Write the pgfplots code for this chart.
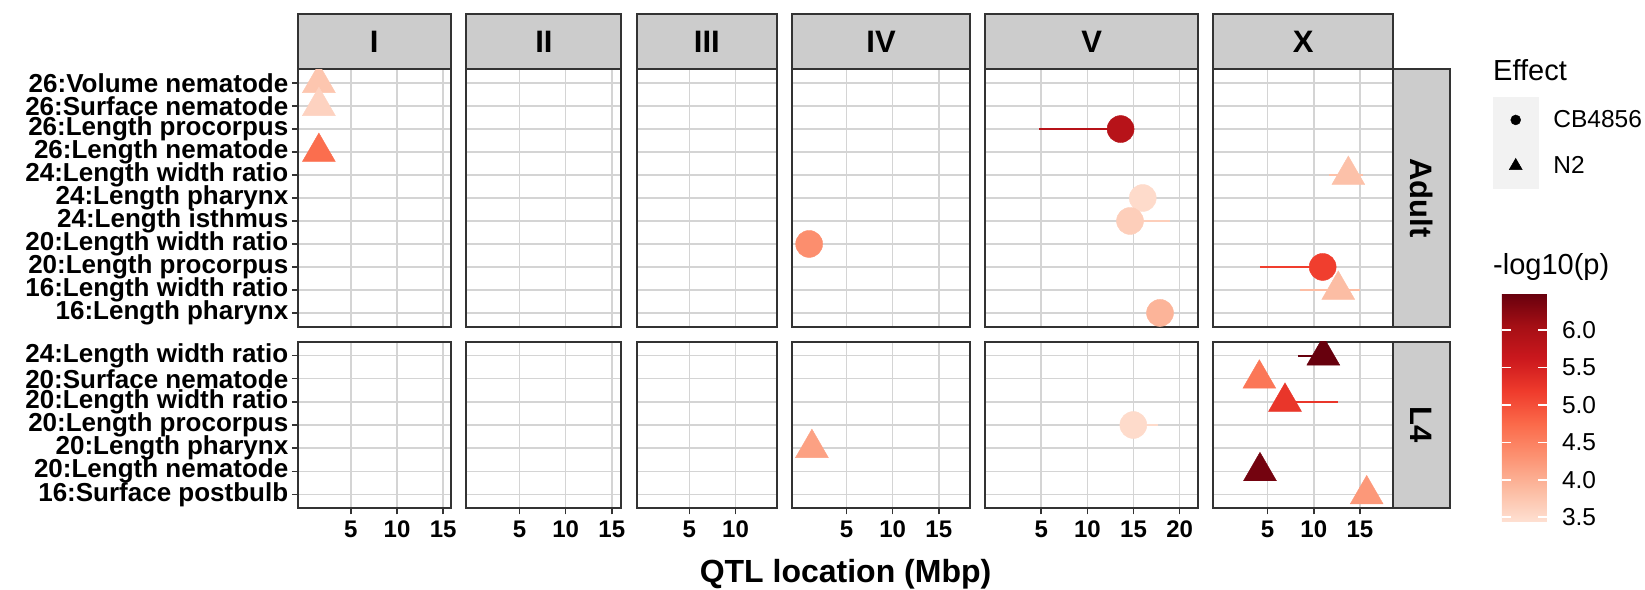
\documentclass[border=0pt]{standalone}
\usepackage{pgfplots}
\pgfplotsset{compat=1.18}
\usepackage{fontspec}
\setmainfont{Liberation Sans}
\definecolor{gridc}{HTML}{D4D4D4}
\definecolor{borderc}{HTML}{333333}
\definecolor{stripc}{HTML}{CCCCCC}
\definecolor{keyc}{HTML}{F2F2F2}
\pgfplotsset{
 colormap={reds}{rgb255=(254,224,210) rgb255=(252,187,161) rgb255=(252,146,114) rgb255=(251,106,74) rgb255=(239,59,44) rgb255=(203,24,29) rgb255=(165,15,21) rgb255=(103,0,13)},
 panel/.style={
   scale only axis, anchor=south west,
   axis line style={draw=borderc, line width=2pt},
   xmajorgrids, ymajorgrids,
   grid style={draw=gridc, line width=1.5pt},
   tick align=outside, major tick length=6pt,
   tick style={draw=borderc, line width=1.5pt},
   xtick pos=left, ytick pos=left,
   /pgf/number format/assume math mode=true,
   xticklabel style={font=\fontsize{24}{24}\selectfont\bfseries, text=black, yshift=-3pt},
   yticklabel style={font=\fontsize{26}{26}\selectfont\bfseries, text=black},
   colormap name=reds, point meta min=3.44, point meta max=6.49,
   clip marker paths=true,
 },
 adult/.style={ymin=0.4, ymax=11.6, height=257.4pt, ytick={1,...,11}},
 lfour/.style={ymin=0.4, ymax=7.6, height=166.6pt, ytick={1,...,7}},
 notx/.style={xticklabel=\empty, xtick style={draw=none}},
 noty/.style={yticklabel=\empty, ytick style={draw=none}},
 colI/.style={xmin=-0.7535, xmax=15.8235, width=153.0pt, xtick={5,10,15}},
 colII/.style={xmin=-0.764, xmax=16.044, width=155.14pt, xtick={5,10,15}},
 colIII/.style={xmin=-0.689, xmax=14.469, width=139.91pt, xtick={5,10}},
 colIV/.style={xmin=-0.8745, xmax=18.3645, width=177.58pt, xtick={5,10,15}},
 colV/.style={xmin=-1.046, xmax=21.966, width=212.40pt, xtick={5,10,15,20}},
 colX/.style={xmin=-0.886, xmax=18.606, width=179.91pt, xtick={5,10,15}},
 pts/.style={scatter, only marks, point meta=explicit, scatter/use mapped color={draw=mapped color, fill=mapped color}},
 circ/.style={pts, mark=*, mark size=13.5pt},
 tri/.style={pts, mark=triangle*, mark size=19pt},
 ci/.style={mesh, shader=flat, line width=2pt, point meta=explicit, mark=none},
}
\tikzset{strip/.style={fill=stripc, draw=borderc, line width=2pt},
  striptext/.style={font=\fontsize{31}{31}\selectfont\bfseries, text=black}}
\begin{document}
\begin{tikzpicture}[x=1pt,y=1pt]
\path[use as bounding box] (0,0) rectangle (1645,589);
% top strips
\draw[strip] (297.8,519.7) rectangle (450.8,575);   \node[striptext] at (374.3,547.35) {I};
\draw[strip] (466.3,519.7) rectangle (621.44,575);  \node[striptext] at (543.9,547.35) {II};
\draw[strip] (636.9,519.7) rectangle (776.81,575);  \node[striptext] at (706.9,547.35) {III};
\draw[strip] (792.3,519.7) rectangle (969.88,575);  \node[striptext] at (881.1,547.35) {IV};
\draw[strip] (985.4,519.7) rectangle (1197.8,575);  \node[striptext] at (1091.6,547.35) {V};
\draw[strip] (1213.3,519.7) rectangle (1393.21,575); \node[striptext] at (1303.3,547.35) {X};
% right strips
\draw[strip] (1393.21,262.3) rectangle (1450,519.7); \node[striptext, rotate=-90] at (1421.6,391) {Adult};
\draw[strip] (1393.21,80.7) rectangle (1450,247.3);  \node[striptext, rotate=-90] at (1421.6,164) {L4};

% ===== Adult row =====
\begin{axis}[panel, adult, colI, notx, at={(297.8pt,262.3pt)},
  yticklabels={16:Length pharynx,16:Length width ratio,20:Length procorpus,20:Length width ratio,24:Length isthmus,24:Length pharynx,24:Length width ratio,26:Length nematode,26:Length procorpus,26:Surface nematode,26:Volume nematode}]
\addplot[tri] coordinates {(1.53,11) [3.75] (1.53,10) [3.6] (1.53,8) [4.7]};
\end{axis}
\begin{axis}[panel, adult, colII, notx, noty, at={(466.3pt,262.3pt)}]
\end{axis}
\begin{axis}[panel, adult, colIII, notx, noty, at={(636.9pt,262.3pt)}]
\end{axis}
\begin{axis}[panel, adult, colIV, notx, noty, at={(792.3pt,262.3pt)}]
\addplot[circ] coordinates {(0.95,4) [4.35]};
\end{axis}
\begin{axis}[panel, adult, colV, notx, noty, at={(985.4pt,262.3pt)}]
\addplot[ci] coordinates {(4.8,9) [5.85] (13.6,9) [5.85]};
\addplot[ci] coordinates {(13.5,5) [3.65] (18.9,5) [3.65]};
\addplot[ci] coordinates {(15.0,6) [3.5] (17.2,6) [3.5]};
\addplot[circ] coordinates {(13.6,9) [5.85] (16.0,6) [3.5] (14.62,5) [3.65] (17.87,1) [3.95]};
\end{axis}
\begin{axis}[panel, adult, colX, notx, noty, at={(1213.3pt,262.3pt)}]
\addplot[ci] coordinates {(11.7,7) [3.8] (15.3,7) [3.8]};
\addplot[ci] coordinates {(4.2,3) [5.15] (11.5,3) [5.15]};
\addplot[ci] coordinates {(8.5,2) [3.85] (15.0,2) [3.85]};
\addplot[tri] coordinates {(13.74,7) [3.8] (12.65,2) [3.85]};
\addplot[circ] coordinates {(10.96,3) [5.15]};
\end{axis}

% ===== L4 row =====
\begin{axis}[panel, lfour, colI, at={(297.8pt,80.7pt)},
  yticklabels={16:Surface postbulb,20:Length nematode,20:Length pharynx,20:Length procorpus,20:Length width ratio,20:Surface nematode,24:Length width ratio},
  xticklabels={5,10,15}]
\end{axis}
\begin{axis}[panel, lfour, colII, noty, at={(466.3pt,80.7pt)}, xticklabels={5,10,15}]
\end{axis}
\begin{axis}[panel, lfour, colIII, noty, at={(636.9pt,80.7pt)}, xticklabels={5,10}]
\end{axis}
\begin{axis}[panel, lfour, colIV, noty, at={(792.3pt,80.7pt)}, xticklabels={5,10,15}]
\addplot[tri] coordinates {(1.25,3) [4.15]};
\end{axis}
\begin{axis}[panel, lfour, colV, noty, at={(985.4pt,80.7pt)}, xticklabels={5,10,15,20}]
\addplot[ci] coordinates {(14.2,4) [3.5] (17.6,4) [3.5]};
\addplot[circ] coordinates {(14.98,4) [3.5]};
\end{axis}
\begin{axis}[panel, lfour, colX, noty, at={(1213.3pt,80.7pt)}, xticklabels={5,10,15}]
\addplot[ci] coordinates {(8.3,7) [6.49] (12.2,7) [6.49]};
\addplot[ci] coordinates {(6.88,5) [5.25] (12.65,5) [5.25]};
\addplot[tri] coordinates {(11.03,7) [6.49] (4.1,6) [4.6] (6.88,5) [5.25] (4.17,2) [6.4] (15.73,1) [4.25]};
\end{axis}

% x title
\node[font=\fontsize{32}{32}\selectfont\bfseries, anchor=base] at (845.5,7) {QTL location (Mbp)};

% shape legend
\node[font=\fontsize{29}{29}\selectfont, anchor=base west, inner sep=0pt] at (1493,508) {Effect};
\begin{axis}[at={(1493pt,401pt)}, anchor=south west, scale only axis, width=45pt, height=91pt,
  hide axis, xmin=0, xmax=1, ymin=0, ymax=1,
  legend style={at={(0,1)}, anchor=north west, draw=none, fill=none, inner sep=0pt, outer sep=0pt,
     row sep=0pt, column sep=15pt, font=\fontsize{24.5}{24.5}\selectfont, text=black,
     nodes={inner sep=0pt}, cells={anchor=west}},
  legend image code/.code={\fill[keyc] (-22.5pt,-22.75pt) rectangle (22.5pt,22.75pt); \draw plot coordinates {(0pt,0pt)};}]
\addlegendimage{only marks, mark=*, mark size=5pt, black}
\addlegendentry{CB4856}
\addlegendimage{only marks, mark=triangle*, mark size=7.5pt, black}
\addlegendentry{N2}
\end{axis}

% colour bar
\node[font=\fontsize{29}{29}\selectfont, anchor=base west, inner sep=0pt] at (1493,314) {-log10(p)};
\pgfplotscolorbardrawstandalone[colormap name=reds, point meta min=3.44, point meta max=6.49,
  colorbar/width=45pt,
  colorbar style={at={(1493.3pt,67.3pt)}, anchor=south west, xshift=0pt, yshift=0pt, scale only axis,
    width=45pt, height=228.4pt,
    ytick={3.5,4,4.5,5,5.5,6}, yticklabels={3.5,4.0,4.5,5.0,5.5,6.0},
    axis line style={draw=none}, axis on top,
    tick align=inside, major tick length=9pt,
    yticklabel pos=right, ytick pos=both,
    ytick style={draw=white, line width=1.5pt},
    yticklabel style={font=\fontsize{24.5}{24.5}\selectfont, text=black, inner sep=0pt, anchor=west},
    yticklabel shift=15pt}]
\end{tikzpicture}
\end{document}
